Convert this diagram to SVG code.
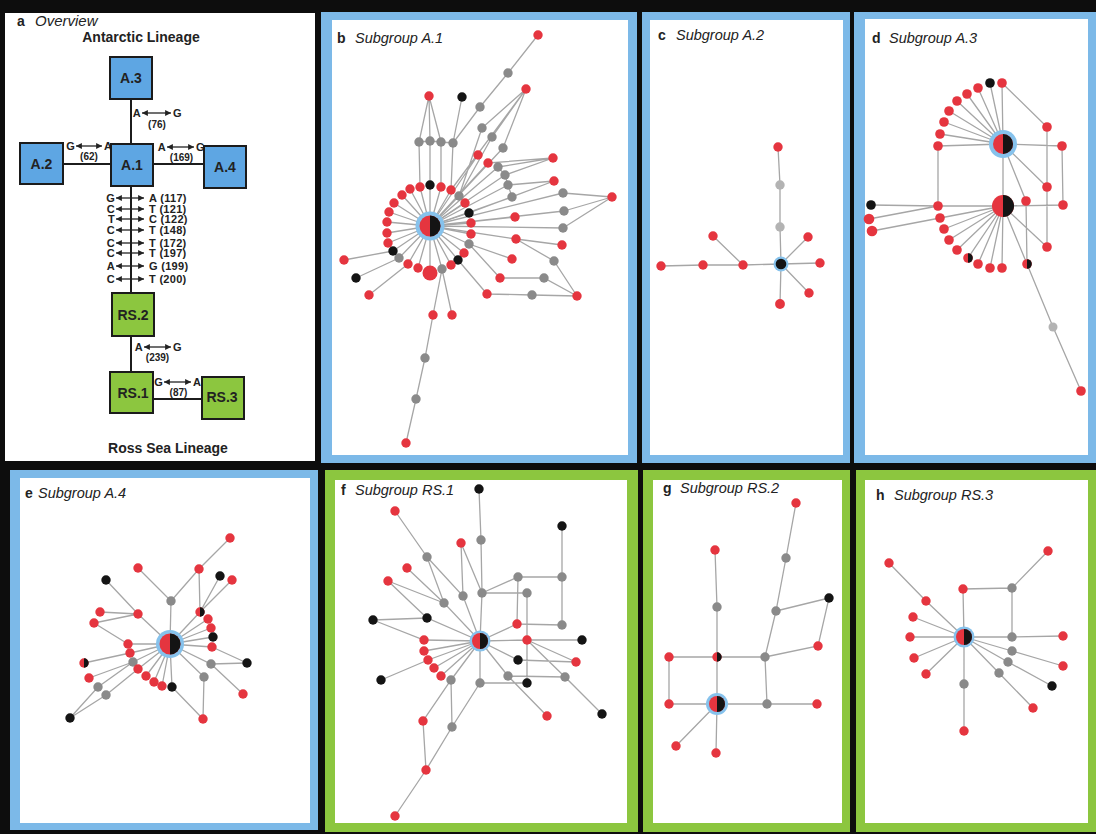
<svg xmlns="http://www.w3.org/2000/svg" width="1096" height="834" viewBox="0 0 1096 834">
<style>
text{font-family:"Liberation Sans",Arial,sans-serif;fill:#222}
.ttl{font-size:14.5px;font-style:italic}
.tag{font-size:14px;font-weight:bold}
.head{font-size:14px;font-weight:bold;text-anchor:middle}
.bx{font-size:14px;font-weight:bold;text-anchor:middle}
.mut{font-size:11px;font-weight:bold;letter-spacing:0.3px}
.num{font-size:10px;font-weight:bold;text-anchor:middle}
.end{text-anchor:end}
.boxA{fill:#5ea6e3;stroke:#1b1b1b;stroke-width:2}
.boxR{fill:#8cc63f;stroke:#1b1b1b;stroke-width:2}
.ln{stroke:#1c1c1c;stroke-width:2;fill:none}
.ar{stroke:#222;stroke-width:1.3;fill:none;marker-start:url(#ah);marker-end:url(#ah)}
.e{stroke:#a6a6a6;stroke-width:1.3;fill:none}
.r{fill:#e5353f}
.g{fill:#8a8a8a}
.k{fill:#141414}
.lg{fill:#b3b3b3}
.halo{fill:#86c2ec}
.frB{fill:#7cb9e8}
.frG{fill:#8cc63f}
.in{fill:#fff}
</style>
<defs>
<marker id="ah" viewBox="0 0 8 8" refX="8" refY="4" markerWidth="4.5" markerHeight="4.5" orient="auto-start-reverse">
<path d="M0 0L8 4L0 8Z" fill="#222"/>
</marker>
<g id="split"><circle r="1" fill="#e5353f"/><path d="M0 -1A1 1 0 0 1 0 1Z" fill="#141414"/></g>
</defs>

<!-- frame -->
<rect width="1096" height="834" fill="#0d0d0d"/>

<!-- panel frames -->
<g id="frames">
<rect class="in" x="5" y="13" width="310" height="448"/>
<rect class="frB" x="321" y="12" width="316" height="451"/>
<rect class="in" x="332" y="20" width="296" height="435"/>
<rect class="frB" x="642" y="12" width="208" height="451"/>
<rect class="in" x="650" y="20" width="193" height="435"/>
<rect class="frB" x="854" y="12" width="242" height="451"/>
<rect class="in" x="865" y="19" width="223" height="436"/>
<rect class="frB" x="10" y="470" width="308" height="360"/>
<rect class="in" x="20" y="478" width="290" height="345"/>
<rect class="frG" x="325" y="470" width="313" height="362"/>
<rect class="in" x="335" y="480" width="292" height="343"/>
<rect class="frG" x="643" y="470" width="207" height="362"/>
<rect class="in" x="653" y="480" width="189" height="343"/>
<rect class="frG" x="856" y="470" width="240" height="362"/>
<rect class="in" x="865" y="480" width="223" height="343"/>
</g>

<!-- panel titles -->
<g id="titles">
<text class="tag" x="17" y="26">a</text><text x="35" y="26" font-size="15" font-style="italic" fill="#4a4a4a">Overview</text>
<text class="tag" x="337" y="43">b</text><text class="ttl" x="355" y="43">Subgroup A.1</text>
<text class="tag" x="658" y="40">c</text><text class="ttl" x="676" y="40">Subgroup A.2</text>
<text class="tag" x="872" y="43">d</text><text class="ttl" x="889" y="43">Subgroup A.3</text>
<text class="tag" x="25" y="498">e</text><text class="ttl" x="38" y="498">Subgroup A.4</text>
<text class="tag" x="341" y="495">f</text><text class="ttl" x="355" y="495">Subgroup RS.1</text>
<text class="tag" x="663" y="493">g</text><text class="ttl" x="680" y="493">Subgroup RS.2</text>
<text class="tag" x="876" y="500">h</text><text class="ttl" x="894" y="500">Subgroup RS.3</text>
</g>

<!-- ===== a: overview of lineages ===== -->
<text class="head" x="141" y="42">Antarctic Lineage</text>
<text class="head" x="168" y="453">Ross Sea Lineage</text>

<g id="a-links">
<path class="ln" d="M131 99V144M63 164H111M153 164H204M131 186V293M131 336V372M153 399H202"/>
<!-- A.3 - A.1 -->
<text class="mut end" x="141" y="117">A</text><line class="ar" x1="142" y1="113" x2="171" y2="113"/><text class="mut" x="173" y="117">G</text>
<text class="num" x="157" y="127.5">(76)</text>
<!-- A.2 - A.1 -->
<text class="mut end" x="75" y="150">G</text><line class="ar" x1="76" y1="146" x2="102" y2="146"/><text class="mut" x="104" y="150">A</text>
<text class="num" x="89" y="160">(62)</text>
<!-- A.1 - A.4 -->
<text class="mut end" x="166" y="151">A</text><line class="ar" x1="167" y1="147" x2="194" y2="147"/><text class="mut" x="196" y="151">G</text>
<text class="num" x="181.5" y="161">(169)</text>
<!-- A.1 - RS.2 -->
<text class="mut end" x="115" y="202">G</text><line class="ar" x1="116" y1="198" x2="144" y2="198"/><text class="mut" x="149" y="202">A (117)</text>
<text class="mut end" x="115" y="213">C</text><line class="ar" x1="116" y1="209" x2="144" y2="209"/><text class="mut" x="149" y="213">T (121)</text>
<text class="mut end" x="115" y="223">T</text><line class="ar" x1="116" y1="219" x2="144" y2="219"/><text class="mut" x="149" y="223">C (122)</text>
<text class="mut end" x="115" y="234">C</text><line class="ar" x1="116" y1="230" x2="144" y2="230"/><text class="mut" x="149" y="234">T (148)</text>
<text class="mut end" x="115" y="247">C</text><line class="ar" x1="116" y1="243" x2="144" y2="243"/><text class="mut" x="149" y="247">T (172)</text>
<text class="mut end" x="115" y="257">C</text><line class="ar" x1="116" y1="253" x2="144" y2="253"/><text class="mut" x="149" y="257">T (197)</text>
<text class="mut end" x="115" y="270">A</text><line class="ar" x1="116" y1="266" x2="144" y2="266"/><text class="mut" x="149" y="270">G (199)</text>
<text class="mut end" x="115" y="283">C</text><line class="ar" x1="116" y1="279" x2="144" y2="279"/><text class="mut" x="149" y="283">T (200)</text>
<!-- RS.2 - RS.1 -->
<text class="mut end" x="143" y="351">A</text><line class="ar" x1="144" y1="347" x2="171" y2="347"/><text class="mut" x="173" y="351">G</text>
<text class="num" x="157.5" y="361">(239)</text>
<!-- RS.1 - RS.3 -->
<text class="mut end" x="163" y="386">G</text><line class="ar" x1="164" y1="382" x2="191" y2="382"/><text class="mut" x="193" y="386">A</text>
<text class="num" x="178.5" y="396">(87)</text>
</g>

<g id="a-A3"><rect class="boxA" x="110" y="57" width="42" height="42"/><text class="bx" x="131" y="83" fill="#1a2744">A.3</text></g>
<g id="a-A2"><rect class="boxA" x="20" y="143" width="43" height="41"/><text class="bx" x="41.5" y="168.5" fill="#1a2744">A.2</text></g>
<g id="a-A1"><rect class="boxA" x="111" y="144" width="42" height="42"/><text class="bx" x="132" y="170" fill="#1a2744">A.1</text></g>
<g id="a-A4"><rect class="boxA" x="204" y="146" width="42" height="42"/><text class="bx" x="225" y="172" fill="#1a2744">A.4</text></g>
<g id="a-RS2"><rect class="boxR" x="112" y="293" width="42" height="43"/><text class="bx" x="133" y="319.5" fill="#1b2410">RS.2</text></g>
<g id="a-RS1"><rect class="boxR" x="110" y="372" width="43" height="41"/><text class="bx" x="133" y="397.5" fill="#1b2410">RS.1</text></g>
<g id="a-RS3"><rect class="boxR" x="202" y="377" width="42" height="42"/><text class="bx" x="222" y="402" fill="#1b2410">RS.3</text></g>

<!-- ===== b: subgroup A.1 ===== -->
<g id="b-links">
<path class="e" d="M430 226L430 185M430 226L441 187M430 226L451 190M430 226L459 196M430 226L465 203M430 226L469 213M430 226L471 223M430 226L471 234M430 226L469 244M430 226L464 253M430 226L458 260M430 226L451 265M430 226L442 269M430 226L430 273M430 226L418 268M430 226L408 264M430 226L399 258M430 226L393 251M430 226L388 243M430 226L387 233M430 226L387 222M430 226L389 212M430 226L394 203M430 226L402 195M430 226L410 189M430 226L420 187"/>
<path class="e" d="M538 35L508 73L480 107L453 143L451 190M462 97L453 143M419 142L429 96L441 142M429 96L430 141M419 142L430 141L441 142L453 143M419 142L420 187M430 141L430 185M441 142L441 187"/>
<path class="e" d="M526 89L482 128M526 89L492 137M526 89L503 148M526 89L451 190M482 128L459 196M492 137L459 196M503 148L430 226M430 226L478 155M430 226L488 163M553 158L488 163M553 158L498 167M553 158L505 175M430 226L498 167M430 226L505 175M430 226L508 185M430 226L512 197M498 167L505 175L508 185L512 197M554 181L508 185M554 181L469 213"/>
<path class="e" d="M430 226L563 193M430 226L564 211M430 226L563 228M563 193L612 197M564 211L612 197M563 228L612 197M430 226L515 217M430 226L516 239M516 239L562 245M516 239L554 261L577 296M469 244L512 259M469 244L500 278L544 278L577 296M458 260L487 294L532 295L577 296"/>
<path class="e" d="M344 260L393 251M356 278L399 258M369 295L408 264M442 269L433 315L425 358L416 399L406 443M452 315L442 269"/>
</g>
<g id="b-nodes">
<circle id="b-r1" class="k" cx="430" cy="185" r="4.7"/>
<circle id="b-r2" class="r" cx="441" cy="187" r="4.7"/>
<circle id="b-r3" class="r" cx="451" cy="190" r="4.7"/>
<circle id="b-r4" class="g" cx="459" cy="196" r="4.7"/>
<circle id="b-r5" class="r" cx="465" cy="203" r="4.7"/>
<circle id="b-r6" class="k" cx="469" cy="213" r="4.7"/>
<circle id="b-r7" class="r" cx="471" cy="223" r="4.7"/>
<circle id="b-r8" class="r" cx="471" cy="234" r="4.7"/>
<circle id="b-r9" class="g" cx="469" cy="244" r="4.7"/>
<circle id="b-r10" class="r" cx="464" cy="253" r="4.7"/>
<circle id="b-r11" class="k" cx="458" cy="260" r="4.7"/>
<circle id="b-r12" class="r" cx="451" cy="265" r="4.7"/>
<circle id="b-r13" class="g" cx="442" cy="269" r="4.7"/>
<circle id="b-r14" class="r" cx="430" cy="273" r="7.5"/>
<circle id="b-r15" class="r" cx="418" cy="268" r="4.7"/>
<circle id="b-r16" class="r" cx="408" cy="264" r="4.7"/>
<circle id="b-r17" class="g" cx="399" cy="258" r="4.7"/>
<circle id="b-r18" class="k" cx="393" cy="251" r="4.7"/>
<circle id="b-r19" class="r" cx="388" cy="243" r="4.7"/>
<circle id="b-r20" class="r" cx="387" cy="233" r="4.7"/>
<circle id="b-r21" class="r" cx="387" cy="222" r="4.7"/>
<circle id="b-r22" class="r" cx="389" cy="212" r="4.7"/>
<circle id="b-r23" class="r" cx="394" cy="203" r="4.7"/>
<circle id="b-r24" class="r" cx="402" cy="195" r="4.7"/>
<circle id="b-r25" class="r" cx="410" cy="189" r="4.7"/>
<circle id="b-r26" class="r" cx="420" cy="187" r="4.7"/>
<circle id="b-o1" class="r" cx="538" cy="35" r="4.7"/>
<circle id="b-o2" class="g" cx="508" cy="73" r="4.7"/>
<circle id="b-o3" class="g" cx="480" cy="107" r="4.7"/>
<circle id="b-o4" class="r" cx="526" cy="89" r="4.7"/>
<circle id="b-o5" class="r" cx="429" cy="96" r="4.7"/>
<circle id="b-o6" class="k" cx="462" cy="97" r="4.7"/>
<circle id="b-o7" class="g" cx="419" cy="142" r="4.7"/>
<circle id="b-o8" class="g" cx="430" cy="141" r="4.7"/>
<circle id="b-o9" class="g" cx="441" cy="142" r="4.7"/>
<circle id="b-o10" class="g" cx="453" cy="143" r="4.7"/>
<circle id="b-o11" class="g" cx="482" cy="128" r="4.7"/>
<circle id="b-o12" class="g" cx="492" cy="137" r="4.7"/>
<circle id="b-o13" class="g" cx="503" cy="148" r="4.7"/>
<circle id="b-o14" class="r" cx="478" cy="155" r="4.7"/>
<circle id="b-o15" class="r" cx="488" cy="163" r="4.7"/>
<circle id="b-o16" class="g" cx="498" cy="167" r="4.7"/>
<circle id="b-o17" class="g" cx="505" cy="175" r="4.7"/>
<circle id="b-o18" class="g" cx="508" cy="185" r="4.7"/>
<circle id="b-o19" class="g" cx="512" cy="197" r="4.7"/>
<circle id="b-o20" class="r" cx="553" cy="158" r="4.7"/>
<circle id="b-o21" class="r" cx="554" cy="181" r="4.7"/>
<circle id="b-o22" class="g" cx="563" cy="193" r="4.7"/>
<circle id="b-o23" class="g" cx="564" cy="211" r="4.7"/>
<circle id="b-o24" class="g" cx="563" cy="228" r="4.7"/>
<circle id="b-o25" class="r" cx="612" cy="197" r="4.7"/>
<circle id="b-o26" class="r" cx="515" cy="217" r="4.7"/>
<circle id="b-o27" class="r" cx="516" cy="239" r="4.7"/>
<circle id="b-o28" class="r" cx="562" cy="245" r="4.7"/>
<circle id="b-o29" class="g" cx="554" cy="261" r="4.7"/>
<circle id="b-o30" class="r" cx="512" cy="259" r="4.7"/>
<circle id="b-o31" class="r" cx="500" cy="278" r="4.7"/>
<circle id="b-o32" class="g" cx="544" cy="278" r="4.7"/>
<circle id="b-o33" class="r" cx="487" cy="294" r="4.7"/>
<circle id="b-o34" class="g" cx="532" cy="295" r="4.7"/>
<circle id="b-o35" class="r" cx="577" cy="296" r="4.7"/>
<circle id="b-o36" class="r" cx="344" cy="260" r="4.7"/>
<circle id="b-o37" class="k" cx="356" cy="278" r="4.7"/>
<circle id="b-o38" class="r" cx="369" cy="295" r="4.7"/>
<circle id="b-o39" class="r" cx="433" cy="315" r="4.7"/>
<circle id="b-o40" class="r" cx="452" cy="315" r="4.7"/>
<circle id="b-o41" class="g" cx="425" cy="358" r="4.7"/>
<circle id="b-o42" class="g" cx="416" cy="399" r="4.7"/>
<circle id="b-o43" class="r" cx="406" cy="443" r="4.7"/>
</g>
<g id="b-hub"><circle class="halo" cx="430" cy="226" r="14.5"/><use href="#split" transform="translate(430 226) scale(10.5)"/></g>

<!-- ===== c: subgroup A.2 ===== -->
<g id="c-links">
<path class="e" d="M781 264L780 227L780 185L778 147M781 264L808 237M781 264L820 263M781 264L809 293M781 264L780 304M781 264L743 265L703 265L661 266M743 265L713 236"/>
</g>
<g id="c-nodes">
<circle id="c-n1" class="r" cx="778" cy="147" r="4.7"/>
<circle id="c-n2" class="lg" cx="780" cy="185" r="4.7"/>
<circle id="c-n3" class="lg" cx="780" cy="227" r="4.7"/>
<circle id="c-n4" class="r" cx="808" cy="237" r="4.7"/>
<circle id="c-n5" class="r" cx="820" cy="263" r="4.7"/>
<circle id="c-n6" class="r" cx="809" cy="293" r="4.7"/>
<circle id="c-n7" class="r" cx="780" cy="304" r="4.9"/>
<circle id="c-n8" class="r" cx="743" cy="265" r="4.7"/>
<circle id="c-n9" class="r" cx="713" cy="236" r="4.7"/>
<circle id="c-n10" class="r" cx="703" cy="265" r="4.7"/>
<circle id="c-n11" class="r" cx="661" cy="266" r="4.7"/>
<g id="c-hub"><circle class="halo" cx="781" cy="264" r="7.5"/><circle class="k" cx="781" cy="264" r="5.3"/></g>
</g>

<!-- ===== d: subgroup A.3 ===== -->
<g id="d-links">
<path class="e" d="M1003 144L990 83M1003 144L978 88M1003 144L967 94M1003 144L957 101M1003 144L949 111M1003 144L944 122M1003 144L940 134M1003 144L938 146M1002 83L1003 144L1003 206L1002 268M1002 83L1047 127L1047 187L1047 247M1003 144L1062 146L1063 205L1003 206M1003 144L1047 187M1003 144L1026 201L1027 264M1003 206L1047 247M1003 206L1027 264L1053 327L1081 391M938 146L938 206"/>
<path class="e" d="M1003 206L938 206M1003 206L940 218M1003 206L944 229M1003 206L949 240M1003 206L957 250M1003 206L968 258M1003 206L978 264M1003 206L990 268M871 205L938 206M869 219L938 206M872 231L940 218"/>
</g>
<g id="d-nodes">
<circle id="d-a1" class="r" cx="1002" cy="83" r="4.8"/>
<circle id="d-a2" class="k" cx="990" cy="83" r="4.8"/>
<circle id="d-a3" class="r" cx="978" cy="88" r="4.8"/>
<circle id="d-a4" class="r" cx="967" cy="94" r="4.8"/>
<circle id="d-a5" class="r" cx="957" cy="101" r="4.8"/>
<circle id="d-a6" class="r" cx="949" cy="111" r="4.8"/>
<circle id="d-a7" class="r" cx="944" cy="122" r="4.8"/>
<circle id="d-a8" class="r" cx="940" cy="134" r="4.8"/>
<circle id="d-a9" class="r" cx="938" cy="146" r="4.8"/>
<circle id="d-b1" class="r" cx="938" cy="206" r="4.8"/>
<circle id="d-b2" class="r" cx="940" cy="218" r="4.8"/>
<circle id="d-b3" class="r" cx="944" cy="229" r="4.8"/>
<circle id="d-b4" class="r" cx="949" cy="240" r="4.8"/>
<circle id="d-b5" class="r" cx="957" cy="250" r="4.8"/>
<g id="d-b6"><use href="#split" transform="translate(968 258) scale(4.8)"/></g>
<circle id="d-b7" class="r" cx="978" cy="264" r="4.8"/>
<circle id="d-b8" class="r" cx="990" cy="268" r="4.8"/>
<circle id="d-b9" class="r" cx="1002" cy="268" r="4.8"/>
<circle id="d-c1" class="r" cx="1047" cy="127" r="4.8"/>
<circle id="d-c2" class="r" cx="1062" cy="146" r="4.8"/>
<circle id="d-c3" class="r" cx="1047" cy="187" r="4.8"/>
<circle id="d-c4" class="r" cx="1026" cy="201" r="4.8"/>
<circle id="d-c5" class="r" cx="1063" cy="205" r="4.8"/>
<circle id="d-c6" class="r" cx="1047" cy="247" r="4.8"/>
<g id="d-c7"><use href="#split" transform="translate(1027 264) scale(4.8)"/></g>
<circle id="d-c8" class="lg" cx="1053" cy="327" r="4.5"/>
<circle id="d-c9" class="r" cx="1081" cy="391" r="4.8"/>
<circle id="d-l1" class="k" cx="871" cy="205" r="4.8"/>
<circle id="d-l2" class="r" cx="869" cy="219" r="5.3"/>
<circle id="d-l3" class="r" cx="872" cy="231" r="5.3"/>
<g id="d-hub1"><circle class="halo" cx="1003" cy="144" r="14"/><use href="#split" transform="translate(1003 144) scale(10)"/></g>
<g id="d-hub2"><use href="#split" transform="translate(1003 206) scale(11)"/></g>
</g>

<!-- ===== e: subgroup A.4 ===== -->
<g id="e-links">
<path class="e" d="M170 644L171 601L138 568M171 601L199 569L230 538M199 569L200 612L220 576M200 612L232 580M170 644L200 612M170 644L208 619M170 644L211 628M170 644L213 637M170 644L212 647M106 580L138 614L170 644M100 612L138 614M94 623L138 614M94 623L128 644M170 644L128 644M170 644L130 653M84 663L130 653"/>
<path class="e" d="M170 644L133 662L89 678M133 662L98 687L70 718M106 695L70 718M106 695L138 669M170 644L138 669M170 644L146 676M170 644L154 682M170 644L162 686M170 644L172 687L203 719M170 644L211 664L247 663M211 664L243 694M170 644L204 677L203 719M212 647L247 663"/>
</g>
<g id="e-nodes">
<circle id="e-n1" class="r" cx="230" cy="538" r="4.7"/>
<circle id="e-n2" class="r" cx="199" cy="569" r="4.7"/>
<circle id="e-n3" class="r" cx="138" cy="568" r="4.7"/>
<circle id="e-n4" class="k" cx="106" cy="580" r="4.7"/>
<circle id="e-n5" class="k" cx="220" cy="576" r="4.7"/>
<circle id="e-n6" class="r" cx="232" cy="580" r="4.7"/>
<circle id="e-n7" class="g" cx="171" cy="601" r="4.7"/>
<circle id="e-n8" class="r" cx="100" cy="612" r="4.7"/>
<circle id="e-n9" class="r" cx="138" cy="614" r="4.7"/>
<circle id="e-n10" class="r" cx="94" cy="623" r="4.7"/>
<g id="e-n11"><use href="#split" transform="translate(200 612) scale(4.7)"/></g>
<circle id="e-n12" class="r" cx="208" cy="619" r="4.7"/>
<circle id="e-n13" class="r" cx="211" cy="628" r="4.7"/>
<circle id="e-n14" class="k" cx="213" cy="637" r="4.7"/>
<circle id="e-n15" class="r" cx="212" cy="647" r="4.7"/>
<circle id="e-n16" class="r" cx="128" cy="644" r="4.7"/>
<circle id="e-n17" class="r" cx="130" cy="653" r="4.7"/>
<g id="e-n18"><use href="#split" transform="translate(84 663) scale(4.7)"/></g>
<circle id="e-n19" class="g" cx="133" cy="662" r="4.7"/>
<circle id="e-n20" class="r" cx="89" cy="678" r="4.7"/>
<circle id="e-n21" class="r" cx="138" cy="669" r="4.7"/>
<circle id="e-n22" class="r" cx="146" cy="676" r="4.7"/>
<circle id="e-n23" class="r" cx="154" cy="682" r="4.7"/>
<circle id="e-n24" class="r" cx="162" cy="686" r="4.7"/>
<circle id="e-n25" class="k" cx="172" cy="687" r="4.7"/>
<circle id="e-n26" class="g" cx="98" cy="687" r="4.7"/>
<circle id="e-n27" class="g" cx="106" cy="695" r="4.7"/>
<circle id="e-n28" class="k" cx="70" cy="718" r="4.7"/>
<circle id="e-n29" class="g" cx="211" cy="664" r="4.7"/>
<circle id="e-n30" class="k" cx="247" cy="663" r="4.7"/>
<circle id="e-n31" class="g" cx="204" cy="677" r="4.7"/>
<circle id="e-n32" class="r" cx="243" cy="694" r="4.7"/>
<circle id="e-n33" class="r" cx="203" cy="719" r="4.7"/>
<g id="e-hub"><circle class="halo" cx="170" cy="644" r="14"/><use href="#split" transform="translate(170 644) scale(10.5)"/></g>
</g>

<!-- ===== f: subgroup RS.1 ===== -->
<g id="f-links">
<path class="e" d="M479 489L481 540L482 593L480 641L480 683M482 593L518 577L562 577L562 526M562 577L562 625M482 593L527 593L527 640L527 683M518 577L517 624M480 641L517 624L562 625M480 641L527 640L582 640M527 640L576 662M527 640L565 677M518 660L576 662M480 641L518 660M480 641L508 676L547 716M508 676L565 677L602 714M480 683L527 683"/>
<path class="e" d="M480 683L452 727L426 770L395 816M480 641L451 680L423 721L426 770M451 680L452 727M480 641L424 640L373 620L427 618L480 641M480 641L424 651M480 641L428 660M480 641L434 668M480 641L441 676M381 680L428 660M395 511L427 557L444 603L480 641M427 557L463 596L480 641M461 543L463 596M461 543L482 593M407 568L444 603M388 581L444 603M388 581L427 618"/>
</g>
<g id="f-nodes">
<circle id="f-n1" class="k" cx="479" cy="489" r="4.7" fill="#2a2a2e"/>
<circle id="f-n2" class="g" cx="481" cy="540" r="4.7"/>
<circle id="f-n3" class="k" cx="562" cy="526" r="4.7"/>
<circle id="f-n4" class="r" cx="395" cy="511" r="4.7"/>
<circle id="f-n5" class="g" cx="427" cy="557" r="4.7"/>
<circle id="f-n6" class="r" cx="461" cy="543" r="4.7"/>
<circle id="f-n7" class="r" cx="407" cy="568" r="4.7"/>
<circle id="f-n8" class="r" cx="388" cy="581" r="4.7"/>
<circle id="f-n9" class="g" cx="463" cy="596" r="4.7"/>
<circle id="f-n10" class="g" cx="482" cy="593" r="4.7"/>
<circle id="f-n11" class="g" cx="444" cy="603" r="4.7"/>
<circle id="f-n12" class="g" cx="518" cy="577" r="4.7"/>
<circle id="f-n13" class="g" cx="562" cy="577" r="4.7"/>
<circle id="f-n14" class="g" cx="527" cy="593" r="4.7"/>
<circle id="f-n15" class="k" cx="373" cy="620" r="4.7"/>
<circle id="f-n16" class="k" cx="427" cy="618" r="4.7"/>
<circle id="f-n17" class="r" cx="517" cy="624" r="4.7"/>
<circle id="f-n18" class="g" cx="562" cy="625" r="4.7"/>
<circle id="f-n19" class="r" cx="424" cy="640" r="4.7"/>
<circle id="f-n20" class="r" cx="527" cy="640" r="4.7"/>
<circle id="f-n21" class="k" cx="582" cy="640" r="4.7"/>
<circle id="f-n22" class="r" cx="424" cy="651" r="4.7"/>
<circle id="f-n23" class="r" cx="428" cy="660" r="4.7"/>
<circle id="f-n24" class="r" cx="434" cy="668" r="4.7"/>
<circle id="f-n25" class="r" cx="441" cy="676" r="4.7"/>
<circle id="f-n26" class="k" cx="381" cy="680" r="4.7"/>
<circle id="f-n27" class="g" cx="451" cy="680" r="4.7"/>
<circle id="f-n28" class="k" cx="518" cy="660" r="4.7"/>
<circle id="f-n29" class="r" cx="576" cy="662" r="4.7"/>
<circle id="f-n30" class="g" cx="508" cy="676" r="4.7"/>
<circle id="f-n31" class="g" cx="565" cy="677" r="4.7"/>
<circle id="f-n32" class="k" cx="527" cy="683" r="4.7"/>
<circle id="f-n33" class="g" cx="480" cy="683" r="4.7"/>
<circle id="f-n34" class="r" cx="423" cy="721" r="4.7"/>
<circle id="f-n35" class="g" cx="452" cy="727" r="4.7"/>
<circle id="f-n36" class="r" cx="547" cy="716" r="4.7"/>
<circle id="f-n37" class="k" cx="602" cy="714" r="4.7"/>
<circle id="f-n38" class="r" cx="426" cy="770" r="4.7"/>
<circle id="f-n39" class="r" cx="395" cy="816" r="4.7"/>
<g id="f-hub"><circle class="halo" cx="480" cy="641" r="10.5"/><use href="#split" transform="translate(480 641) scale(8)"/></g>
</g>

<!-- ===== g: subgroup RS.2 ===== -->
<g id="g-links">
<path class="e" d="M715 550L717 607L717 657L717 704L716 753M669 657L717 657L765 657M669 657L669 704L717 704L767 704L817 704M765 657L767 704M765 657L776 611L786 558L796 503M776 611L829 598L818 646L765 657M717 704L676 746"/>
</g>
<g id="g-nodes">
<circle id="g-n1" class="r" cx="796" cy="503" r="4.7"/>
<circle id="g-n2" class="g" cx="786" cy="558" r="4.7"/>
<circle id="g-n3" class="k" cx="829" cy="598" r="4.7"/>
<circle id="g-n4" class="g" cx="776" cy="611" r="4.7"/>
<circle id="g-n5" class="r" cx="715" cy="550" r="4.7"/>
<circle id="g-n6" class="g" cx="717" cy="607" r="4.7"/>
<circle id="g-n7" class="r" cx="818" cy="646" r="4.7"/>
<circle id="g-n8" class="r" cx="669" cy="657" r="4.7"/>
<g id="g-n9"><use href="#split" transform="translate(717 657) scale(4.7)"/></g>
<circle id="g-n10" class="g" cx="765" cy="657" r="4.7"/>
<circle id="g-n11" class="r" cx="669" cy="704" r="4.7"/>
<circle id="g-n12" class="g" cx="767" cy="704" r="4.7"/>
<circle id="g-n13" class="r" cx="817" cy="704" r="4.7"/>
<circle id="g-n14" class="r" cx="676" cy="746" r="4.7"/>
<circle id="g-n15" class="r" cx="716" cy="753" r="4.7"/>
<g id="g-hub"><circle class="halo" cx="717" cy="704" r="11"/><use href="#split" transform="translate(717 704) scale(8)"/></g>
</g>

<!-- ===== h: subgroup RS.3 ===== -->
<g id="h-links">
<path class="e" d="M964 637L963 589L1012 588L1012 637M1012 588L1048 551M964 637L1012 637L1063 636M889 563L926 601L964 637M964 637L913 617M964 637L910 637M964 637L914 658M964 637L926 674M964 637L964 684L964 731M964 637L1012 651L1063 666M964 637L1008 662L1052 686M964 637L999 673L1033 708"/>
</g>
<g id="h-nodes">
<circle id="h-n1" class="r" cx="1048" cy="551" r="4.7"/>
<circle id="h-n2" class="r" cx="889" cy="563" r="4.7"/>
<circle id="h-n3" class="r" cx="963" cy="589" r="4.7"/>
<circle id="h-n4" class="g" cx="1012" cy="588" r="4.7"/>
<circle id="h-n5" class="r" cx="926" cy="601" r="4.7"/>
<circle id="h-n6" class="r" cx="913" cy="617" r="4.7"/>
<circle id="h-n7" class="r" cx="910" cy="637" r="4.7"/>
<circle id="h-n8" class="g" cx="1012" cy="637" r="4.7"/>
<circle id="h-n9" class="r" cx="1063" cy="636" r="4.7"/>
<circle id="h-n10" class="r" cx="914" cy="658" r="4.7"/>
<circle id="h-n11" class="g" cx="1012" cy="651" r="4.7"/>
<circle id="h-n12" class="g" cx="1008" cy="662" r="4.7"/>
<circle id="h-n13" class="r" cx="1063" cy="666" r="4.7"/>
<circle id="h-n14" class="r" cx="926" cy="674" r="4.7"/>
<circle id="h-n15" class="g" cx="999" cy="673" r="4.7"/>
<circle id="h-n16" class="g" cx="964" cy="684" r="4.7"/>
<circle id="h-n17" class="k" cx="1052" cy="686" r="4.7"/>
<circle id="h-n18" class="r" cx="1033" cy="708" r="4.7"/>
<circle id="h-n19" class="r" cx="964" cy="731" r="4.7"/>
<g id="h-hub"><circle class="halo" cx="964" cy="637" r="10.5"/><use href="#split" transform="translate(964 637) scale(8)"/></g>
</g>
</svg>
